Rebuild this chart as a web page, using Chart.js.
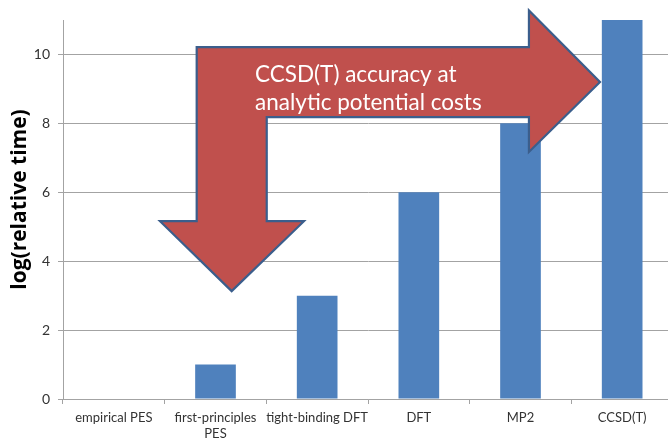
<!DOCTYPE html>
<html><head><meta charset="utf-8">
<script src="https://cdn.jsdelivr.net/npm/chart.js@4/dist/chart.umd.min.js"></script>
<style>html,body{margin:0;padding:0;overflow:hidden;background:#fff}#wrap{width:673px;height:438px}</style>
</head><body><div id="wrap"><canvas id="c" width="673" height="438"></canvas></div>
<script>
const categories = [['empirical PES'], ['first-principles', 'PES'], ['tight-binding DFT'], ['DFT'], ['MP2'], ['CCSD(T)']];
const logRelativeTime = [0, 1, 3, 6, 8, 11];
const yTicks = [0, 2, 4, 6, 8, 10];
const yTitle = 'log(relative time)';
const arrowText = ['CCSD(T) accuracy at', 'analytic potential costs'];

const FONT = 'Lato, "Open Sans", sans-serif';
const GRID = '#a3a3a3';

const arrowPlugin = {
  id: 'bentArrow',
  afterDatasetsDraw(chart) {
    const xs = chart.scales.x, ys = chart.scales.y, ctx = chart.ctx;
    const P = (xi, yv) => [xs.getPixelForValue(xi), ys.getPixelForValue(yv)];
    const shape = [
      [0.815, 10.21], [4.083, 10.21], [4.083, 11.28], [4.782, 9.20], [4.083, 7.17],
      [4.083, 8.18], [1.504, 8.18], [1.504, 5.16], [1.870, 5.16], [1.159, 3.13],
      [0.454, 5.16], [0.815, 5.16]
    ];
    ctx.save();
    ctx.beginPath();
    shape.forEach((p, i) => { const [x, y] = P(p[0], p[1]); i ? ctx.lineTo(x, y) : ctx.moveTo(x, y); });
    ctx.closePath();
    ctx.fillStyle = '#c0504d';
    ctx.fill();
    ctx.lineWidth = 2.2;
    ctx.lineJoin = 'miter';
    ctx.strokeStyle = '#3b5e8c';
    ctx.stroke();
    ctx.fillStyle = '#ffffff';
    ctx.font = '22.5px ' + FONT;
    ctx.textBaseline = 'alphabetic';
    ctx.textAlign = 'left';
    const [tx, ty1] = P(1.389, 9.20);
    const ty2 = ys.getPixelForValue(8.38);
    ctx.fillText(arrowText[0], tx, ty1);
    ctx.fillText(arrowText[1], tx, ty2);
    ctx.restore();
  }
};

const yTitlePlugin = {
  id: 'yTitle',
  afterDraw(chart) {
    const ctx = chart.ctx, a = chart.chartArea;
    ctx.save();
    ctx.translate(20, (a.top + a.bottom) / 2 - 10);
    ctx.rotate(-Math.PI / 2);
    ctx.fillStyle = '#000';
    ctx.font = 'bold 21px "Open Sans", Lato, sans-serif';
    ctx.textAlign = 'center';
    ctx.textBaseline = 'middle';
    ctx.fillText(yTitle, 0, 0);
    ctx.restore();
  }
};

new Chart(document.getElementById('c'), {
  type: 'bar',
  data: {
    labels: categories,
    datasets: [{
      data: logRelativeTime,
      backgroundColor: '#4f81bd',
      borderWidth: 0,
      barPercentage: 0.4,
      categoryPercentage: 1.0
    }]
  },
  options: {
    responsive: false,
    animation: false,
    devicePixelRatio: 1,
    layout: { padding: { top: 20, left: 0, right: 0, bottom: 0 } },
    plugins: { legend: { display: false }, tooltip: { enabled: false } },
    scales: {
      x: {
        offset: true,
        grid: { drawOnChartArea: false, drawTicks: true, tickLength: 5, offset: true, color: GRID },
        border: { color: GRID, width: 1 },
        ticks: { color: '#333', font: { family: FONT, size: 13 }, padding: 6, maxRotation: 0, autoSkip: false },
        afterFit: s => { s.height = 39; }
      },
      y: {
        min: 0, max: 11,
        afterBuildTicks: s => { s.ticks = yTicks.map(v => ({ value: v })); },
        grid: { color: GRID, lineWidth: 1, tickLength: 5 },
        border: { color: GRID, width: 1 },
        ticks: { color: '#333', font: { family: FONT, size: 14 }, padding: 8 },
        title: { display: false },
        afterFit: s => { s.width = 63; }
      }
    }
  },
  plugins: [arrowPlugin, yTitlePlugin]
});
</script></body></html>
